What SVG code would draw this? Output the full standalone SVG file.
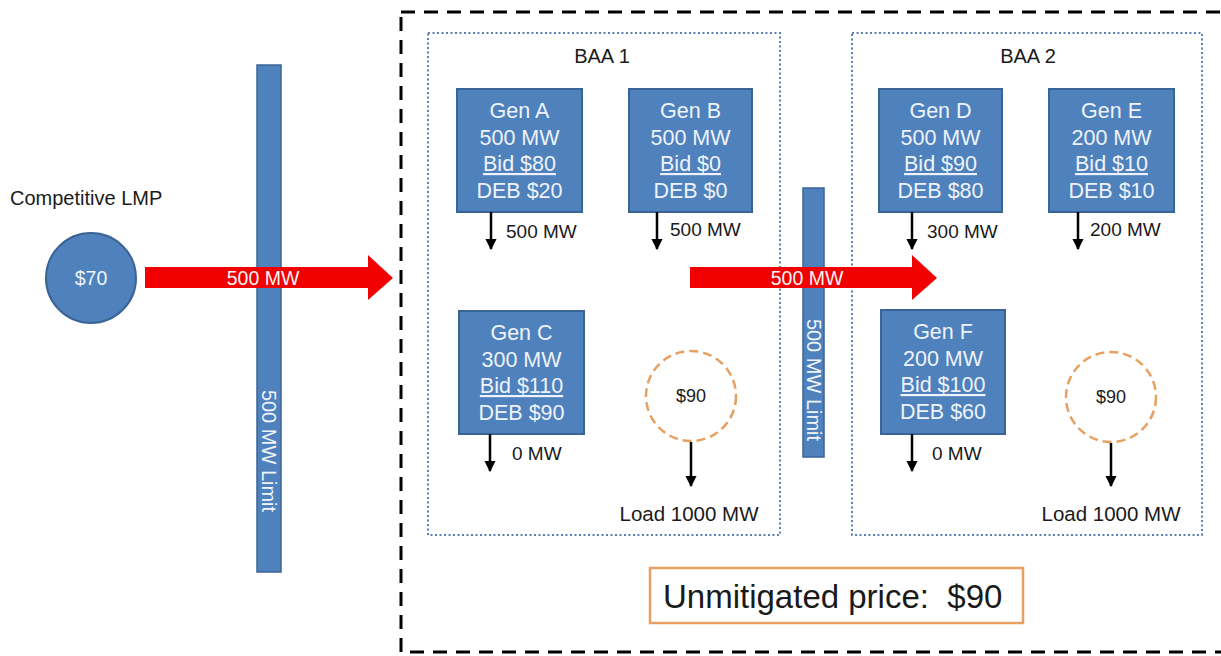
<svg xmlns="http://www.w3.org/2000/svg" width="1221" height="656" viewBox="0 0 1221 656">
<defs>
<style>
text{font-family:"Liberation Sans",Arial,sans-serif;}
.gen{fill:#4f81bd;stroke:#3b6496;stroke-width:2;}
.gt{fill:#eef3fb;font-size:21.5px;text-anchor:middle;}
.lbl{fill:#1a1a1a;font-size:19px;}
.bar{fill:#4f81bd;stroke:#3b6496;stroke-width:1.5;}
.baa{fill:none;stroke:#5a7fb5;stroke-width:2;stroke-dasharray:2 2.5;}
.price{fill:none;stroke:#e8a060;stroke-width:2.5;stroke-dasharray:9 5;}
.red{fill:#f00000;}
.wt{fill:#f4f4f4;font-size:19.5px;text-anchor:middle;}
.vt{fill:#f0f4fa;font-size:20px;text-anchor:middle;}
.conn{stroke:#000;stroke-width:2.5;fill:none;marker-end:url(#ah);}
</style>
<marker id="ah" viewBox="0 0 10 10" refX="9" refY="5" markerWidth="4.5" markerHeight="4.5" orient="auto" markerUnits="strokeWidth">
<path d="M0,0 L10,5 L0,10 z" fill="#000"/>
</marker>
</defs>
<rect width="1221" height="656" fill="#fff"/>

<!-- outer dashed region -->
<rect id="region" x="401" y="12" width="830" height="640" fill="none" stroke="#000" stroke-width="3" stroke-dasharray="14 9"/>

<!-- BAA boxes -->
<g id="baa1">
<rect class="baa" x="428" y="33" width="352" height="502"/>
<text x="602" y="63" font-size="20" text-anchor="middle" fill="#1a1a1a">BAA 1</text>
</g>
<g id="baa2">
<rect class="baa" x="852" y="33" width="350" height="502"/>
<text x="1028" y="63" font-size="20" text-anchor="middle" fill="#1a1a1a">BAA 2</text>
</g>

<!-- limit bars -->
<g id="limit1">
<rect class="bar" x="257" y="65" width="24" height="507"/>
<text class="vt" transform="translate(262,451) rotate(90)">500 MW Limit</text>
</g>
<g id="limit2">
<rect class="bar" x="803" y="188" width="21" height="269"/>
<text class="vt" transform="translate(807,380) rotate(90)">500 MW Limit</text>
</g>

<!-- competitive LMP -->
<g id="lmp">
<text x="10" y="205" font-size="20" fill="#1a1a1a">Competitive LMP</text>
<circle cx="91" cy="278" r="45" fill="#4f81bd" stroke="#3b6496" stroke-width="2"/>
<text x="91" y="285" font-size="19.5" text-anchor="middle" fill="#f0f4fa">$70</text>
</g>

<!-- flow arrows -->
<g id="flow1">
<polygon class="red" points="145,267 368,267 368,255 393,278 368,300 368,288 145,288"/>
<text class="wt" x="263" y="285">500 MW</text>
</g>
<g id="flow2">
<polygon class="red" points="690,267 912,267 912,255 937,278 912,300 912,288 690,288"/>
<text class="wt" x="807" y="285">500 MW</text>
</g>

<!-- generators -->
<g id="genA">
<rect class="gen" x="457" y="89" width="125" height="123"/>
<text class="gt" x="519.5" y="118">Gen A</text>
<text class="gt" x="519.5" y="145">500 MW</text>
<text class="gt" x="519.5" y="171" text-decoration="underline">Bid $80</text>
<text class="gt" x="519.5" y="198">DEB $20</text>
</g>
<g id="genB">
<rect class="gen" x="629" y="89" width="123" height="123"/>
<text class="gt" x="690.5" y="118">Gen B</text>
<text class="gt" x="690.5" y="145">500 MW</text>
<text class="gt" x="690.5" y="171" text-decoration="underline">Bid $0</text>
<text class="gt" x="690.5" y="198">DEB $0</text>
</g>
<g id="genC">
<rect class="gen" x="459" y="311" width="125" height="123"/>
<text class="gt" x="521.5" y="340">Gen C</text>
<text class="gt" x="521.5" y="367">300 MW</text>
<text class="gt" x="521.5" y="393" text-decoration="underline">Bid $110</text>
<text class="gt" x="521.5" y="420">DEB $90</text>
</g>
<g id="genD">
<rect class="gen" x="879" y="89" width="123" height="123"/>
<text class="gt" x="940.5" y="118">Gen D</text>
<text class="gt" x="940.5" y="145">500 MW</text>
<text class="gt" x="940.5" y="171" text-decoration="underline">Bid $90</text>
<text class="gt" x="940.5" y="198">DEB $80</text>
</g>
<g id="genE">
<rect class="gen" x="1049" y="89" width="125" height="123"/>
<text class="gt" x="1111.5" y="118">Gen E</text>
<text class="gt" x="1111.5" y="145">200 MW</text>
<text class="gt" x="1111.5" y="171" text-decoration="underline">Bid $10</text>
<text class="gt" x="1111.5" y="198">DEB $10</text>
</g>
<g id="genF">
<rect class="gen" x="881" y="310" width="124" height="124"/>
<text class="gt" x="943" y="339">Gen F</text>
<text class="gt" x="943" y="366">200 MW</text>
<text class="gt" x="943" y="392" text-decoration="underline">Bid $100</text>
<text class="gt" x="943" y="419">DEB $60</text>
</g>

<!-- load price nodes -->
<g id="load1">
<circle class="price" cx="691" cy="396" r="45"/>
<text x="691" y="402" font-size="18" text-anchor="middle" fill="#1a1a1a">$90</text>
<text x="689" y="521" font-size="20.5" text-anchor="middle" fill="#1a1a1a">Load 1000 MW</text>
</g>
<g id="load2">
<circle class="price" cx="1111" cy="397" r="45"/>
<text x="1111" y="403" font-size="18" text-anchor="middle" fill="#1a1a1a">$90</text>
<text x="1111" y="521" font-size="20.5" text-anchor="middle" fill="#1a1a1a">Load 1000 MW</text>
</g>

<!-- connectors -->
<g id="connectors">
<line class="conn" x1="491" y1="212" x2="491" y2="249"/>
<line class="conn" x1="657" y1="212" x2="657" y2="249"/>
<line class="conn" x1="912" y1="212" x2="912" y2="249"/>
<line class="conn" x1="1078" y1="212" x2="1078" y2="249"/>
<line class="conn" x1="490" y1="434" x2="490" y2="471"/>
<line class="conn" x1="912" y1="434" x2="912" y2="471"/>
<line class="conn" x1="691" y1="442" x2="691" y2="486"/>
<line class="conn" x1="1111" y1="443" x2="1111" y2="486"/>
</g>

<!-- flow labels -->
<g id="labels">
<text class="lbl" x="506" y="238">500 MW</text>
<text class="lbl" x="670" y="236">500 MW</text>
<text class="lbl" x="927" y="238">300 MW</text>
<text class="lbl" x="1090" y="236">200 MW</text>
<text class="lbl" x="512" y="460">0 MW</text>
<text class="lbl" x="932" y="460">0 MW</text>
</g>

<!-- unmitigated price -->
<g id="unmitigated">
<rect x="650" y="568" width="373" height="55" fill="#fff" stroke="#e8a060" stroke-width="2.5"/>
<text x="663" y="608" font-size="33" fill="#1a1a1a" xml:space="preserve">Unmitigated price:  $90</text>
</g>
</svg>
